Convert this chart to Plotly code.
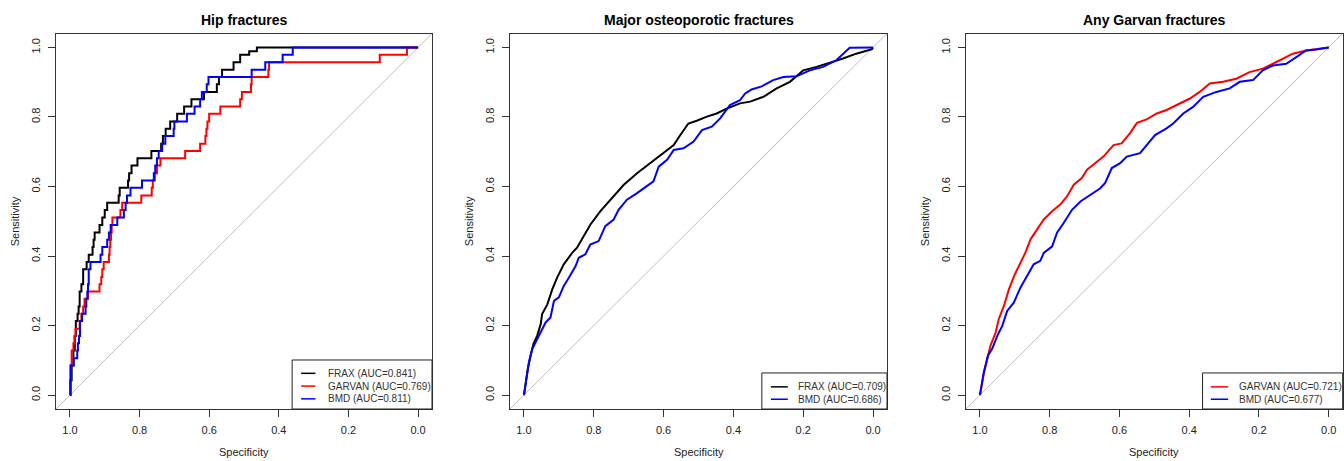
import plotly.graph_objects as go

# ---------------- data ----------------
panel_titles = ["Hip fractures", "Major osteoporotic fractures", "Any Garvan fractures"]
tick_vals = [0.0, 0.2, 0.4, 0.6, 0.8, 1.0]
tick_text = ["0.0", "0.2", "0.4", "0.6", "0.8", "1.0"]

# Hip fractures (step curves: start of each sensitivity level)
hip_frax_spec = [1.0, 0.998, 0.995, 0.990, 0.986, 0.983, 0.978, 0.975, 0.972, 0.967, 0.962, 0.952, 0.946, 0.935,
                 0.932, 0.929, 0.915, 0.907, 0.900, 0.893, 0.860, 0.857, 0.833, 0.830, 0.823, 0.806, 0.766, 0.738,
                 0.733, 0.725, 0.712, 0.692, 0.672, 0.651, 0.615, 0.578, 0.572, 0.563, 0.530, 0.511, 0.485, 0.463, 0.0]
hip_frax_sens = [0.0, 0.043, 0.085, 0.128, 0.170, 0.213, 0.234, 0.255, 0.298, 0.319, 0.362, 0.383, 0.404, 0.426,
                 0.447, 0.468, 0.489, 0.511, 0.532, 0.553, 0.574, 0.596, 0.617, 0.638, 0.660, 0.681, 0.702, 0.723,
                 0.745, 0.766, 0.787, 0.809, 0.830, 0.851, 0.872, 0.894, 0.915, 0.936, 0.957, 0.979, 0.989, 1.0, 1.0]

hip_garvan_spec = [1.0, 0.998, 0.995, 0.990, 0.987, 0.984, 0.972, 0.967, 0.962, 0.958, 0.948, 0.915, 0.910, 0.907,
                   0.903, 0.888, 0.886, 0.884, 0.882, 0.880, 0.878, 0.855, 0.850, 0.795, 0.765, 0.762, 0.756, 0.750,
                   0.740, 0.669, 0.626, 0.611, 0.608, 0.605, 0.600, 0.568, 0.511, 0.506, 0.480, 0.478, 0.430, 0.428,
                   0.110, 0.032, 0.0]
hip_garvan_sens = [0.0, 0.085, 0.128, 0.149, 0.170, 0.191, 0.213, 0.234, 0.255, 0.277, 0.298, 0.319, 0.340, 0.362,
                   0.383, 0.404, 0.426, 0.447, 0.468, 0.489, 0.511, 0.532, 0.553, 0.574, 0.596, 0.617, 0.638, 0.660,
                   0.681, 0.702, 0.723, 0.745, 0.766, 0.787, 0.809, 0.830, 0.851, 0.872, 0.894, 0.915, 0.936, 0.957,
                   0.979, 1.0, 1.0]

hip_bmd_spec = [1.0, 0.999, 0.998, 0.989, 0.979, 0.977, 0.974, 0.971, 0.965, 0.955, 0.953, 0.950, 0.948, 0.946,
                0.941, 0.912, 0.907, 0.893, 0.888, 0.883, 0.864, 0.845, 0.840, 0.836, 0.826, 0.793, 0.759, 0.755,
                0.750, 0.745, 0.735, 0.726, 0.702, 0.700, 0.664, 0.642, 0.626, 0.621, 0.607, 0.602, 0.478, 0.439,
                0.389, 0.360, 0.0]
hip_bmd_sens = [0.0, 0.043, 0.085, 0.106, 0.128, 0.149, 0.170, 0.213, 0.234, 0.255, 0.277, 0.298, 0.319, 0.362,
                0.383, 0.404, 0.426, 0.447, 0.468, 0.489, 0.511, 0.532, 0.553, 0.574, 0.596, 0.617, 0.638, 0.660,
                0.681, 0.702, 0.723, 0.745, 0.766, 0.787, 0.809, 0.830, 0.851, 0.872, 0.894, 0.915, 0.936, 0.957,
                0.979, 1.0, 1.0]

# Major osteoporotic fractures
mof_frax_spec = [1.0, 0.995, 0.989, 0.981, 0.973, 0.962, 0.952, 0.948, 0.933, 0.919, 0.905, 0.886, 0.862, 0.848,
                 0.829, 0.810, 0.781, 0.752, 0.714, 0.676, 0.638, 0.600, 0.571, 0.552, 0.529, 0.505, 0.476, 0.448,
                 0.419, 0.381, 0.352, 0.314, 0.276, 0.238, 0.200, 0.162, 0.124, 0.086, 0.048, 0.014, 0.003, 0.0]
mof_frax_sens = [0.0, 0.037, 0.075, 0.114, 0.147, 0.171, 0.204, 0.233, 0.261, 0.304, 0.338, 0.376, 0.409, 0.424,
                 0.457, 0.490, 0.529, 0.562, 0.605, 0.638, 0.667, 0.696, 0.719, 0.748, 0.781, 0.789, 0.801, 0.810,
                 0.824, 0.839, 0.844, 0.858, 0.882, 0.901, 0.934, 0.944, 0.955, 0.968, 0.982, 0.991, 0.995, 1.0]

mof_bmd_spec = [1.0, 0.995, 0.986, 0.976, 0.967, 0.952, 0.938, 0.924, 0.914, 0.900, 0.886, 0.871, 0.852, 0.843,
                0.824, 0.810, 0.786, 0.767, 0.743, 0.729, 0.705, 0.676, 0.648, 0.629, 0.614, 0.590, 0.571, 0.543,
                0.514, 0.490, 0.462, 0.438, 0.410, 0.381, 0.367, 0.348, 0.319, 0.286, 0.257, 0.219, 0.181, 0.143,
                0.105, 0.081, 0.067, 0.0]
mof_bmd_sens = [0.0, 0.037, 0.094, 0.133, 0.152, 0.180, 0.209, 0.223, 0.271, 0.281, 0.314, 0.338, 0.371, 0.395,
                0.405, 0.433, 0.443, 0.486, 0.505, 0.533, 0.562, 0.581, 0.600, 0.615, 0.657, 0.677, 0.705, 0.710,
                0.729, 0.762, 0.772, 0.796, 0.834, 0.848, 0.867, 0.879, 0.888, 0.906, 0.915, 0.917, 0.934, 0.944,
                0.963, 0.987, 0.999, 1.0]

# Any Garvan fractures
any_garvan_spec = [1.0, 0.989, 0.979, 0.970, 0.955, 0.946, 0.931, 0.917, 0.902, 0.883, 0.870, 0.855, 0.836, 0.817,
                   0.793, 0.770, 0.750, 0.731, 0.708, 0.693, 0.670, 0.646, 0.617, 0.594, 0.570, 0.550, 0.522, 0.493,
                   0.465, 0.436, 0.398, 0.370, 0.341, 0.303, 0.265, 0.227, 0.189, 0.160, 0.131, 0.103, 0.065, 0.027,
                   0.0]
any_garvan_sens = [0.0, 0.061, 0.104, 0.142, 0.180, 0.219, 0.257, 0.304, 0.343, 0.381, 0.409, 0.448, 0.476, 0.505,
                   0.529, 0.548, 0.572, 0.605, 0.624, 0.648, 0.667, 0.686, 0.719, 0.724, 0.753, 0.783, 0.793, 0.810,
                   0.820, 0.834, 0.853, 0.872, 0.896, 0.901, 0.910, 0.929, 0.939, 0.953, 0.968, 0.982, 0.991, 0.996,
                   1.0]

any_bmd_spec = [1.0, 0.996, 0.989, 0.977, 0.965, 0.950, 0.936, 0.922, 0.903, 0.884, 0.865, 0.846, 0.827, 0.817,
                0.793, 0.779, 0.760, 0.736, 0.712, 0.684, 0.655, 0.641, 0.622, 0.598, 0.579, 0.541, 0.517, 0.498,
                0.465, 0.446, 0.417, 0.389, 0.360, 0.322, 0.284, 0.255, 0.217, 0.189, 0.160, 0.122, 0.093, 0.065,
                0.036, 0.0]
any_bmd_sens = [0.0, 0.028, 0.066, 0.114, 0.133, 0.171, 0.199, 0.242, 0.266, 0.309, 0.343, 0.376, 0.386, 0.409,
                0.428, 0.467, 0.495, 0.533, 0.557, 0.576, 0.595, 0.610, 0.653, 0.667, 0.686, 0.696, 0.724, 0.748,
                0.767, 0.781, 0.810, 0.829, 0.858, 0.872, 0.882, 0.901, 0.906, 0.934, 0.948, 0.953, 0.972, 0.991,
                0.994, 1.0]

hip_labels = ["FRAX (AUC=0.841)", "GARVAN (AUC=0.769)", "BMD (AUC=0.811)"]
mof_labels = ["FRAX (AUC=0.709)", "BMD (AUC=0.686)"]
any_labels = ["GARVAN (AUC=0.721)", "BMD (AUC=0.677)"]

BLACK, RED, BLUE = "#000000", "#FF0000", "#0000FF"

panels = [
    dict(curves=[(hip_frax_spec, hip_frax_sens, BLACK), (hip_garvan_spec, hip_garvan_sens, RED),
                 (hip_bmd_spec, hip_bmd_sens, BLUE)], shape="hv", labels=hip_labels, colors=[BLACK, RED, BLUE],
         dom=[56, 432], leg=dict(x0=0.628, top=0.1305, l0=0.652, l1=0.690, tx=0.718, rows=[0.095, 0.061, 0.027])),
    dict(curves=[(mof_frax_spec, mof_frax_sens, BLACK), (mof_bmd_spec, mof_bmd_sens, BLUE)], shape="linear",
         labels=mof_labels, colors=[BLACK, BLUE],
         dom=[510, 887], leg=dict(x0=0.668, top=0.096, l0=0.692, l1=0.737, tx=0.759, rows=[0.059, 0.026])),
    dict(curves=[(any_garvan_spec, any_garvan_sens, RED), (any_bmd_spec, any_bmd_sens, BLUE)], shape="linear",
         labels=any_labels, colors=[RED, BLUE],
         dom=[966, 1342.7], leg=dict(x0=0.628, top=0.096, l0=0.650, l1=0.696, tx=0.719, rows=[0.059, 0.026])),
]

W, H = 1344, 461
y_dom = [1 - 409 / H, 1 - 33.5 / H]
FONT = "Liberation Sans, Arial, sans-serif"

fig = go.Figure()
shapes = []
annotations = []

for i, p in enumerate(panels):
    n = i + 1
    xa = "x" if n == 1 else f"x{n}"
    ya = "y" if n == 1 else f"y{n}"
    xd = f"{xa} domain"
    yd = f"{ya} domain"
    for xs, ys, col in p["curves"]:
        fig.add_trace(go.Scatter(x=xs, y=ys, mode="lines", line=dict(color=col, width=2, shape=p["shape"]),
                                 xaxis=xa, yaxis=ya, showlegend=False, hoverinfo="skip"))
    # chance diagonal
    shapes.append(dict(type="line", xref=xa, yref=ya, x0=1.04, y0=-0.04, x1=-0.04, y1=1.04,
                       line=dict(color="#BEBEBE", width=1), layer="below"))
    # legend box
    L = p["leg"]
    shapes.append(dict(type="rect", xref=xd, yref=yd, x0=L["x0"], x1=1.0, y0=0.0, y1=L["top"],
                       line=dict(color="#222222", width=1), fillcolor="white"))
    for lab, col, ry in zip(p["labels"], p["colors"], L["rows"]):
        shapes.append(dict(type="line", xref=xd, yref=yd, x0=L["l0"], x1=L["l1"], y0=ry, y1=ry,
                           line=dict(color=col, width=1.5)))
        annotations.append(dict(xref=xd, yref=yd, x=L["tx"], y=ry, text=lab, showarrow=False,
                                xanchor="left", yanchor="middle", font=dict(family=FONT, size=10, color="#333333")))
    # title
    annotations.append(dict(xref=xd, yref=yd, x=0.5, y=1 + 13.5 / 375.5, text=f"<b>{panel_titles[i]}</b>",
                            showarrow=False, xanchor="center", yanchor="middle",
                            font=dict(family=FONT, size=14, color="#000000")))
    # axis titles
    annotations.append(dict(xref=xd, yref=yd, x=0.5, y=-(452 - 409) / 375.5, text="Specificity",
                            showarrow=False, xanchor="center", yanchor="middle",
                            font=dict(family=FONT, size=11, color="#222222")))
    annotations.append(dict(xref=xd, yref=yd, x=-(41) / 376.0, y=0.5, text="Sensitivity", textangle=-90,
                            showarrow=False, xanchor="center", yanchor="middle",
                            font=dict(family=FONT, size=11, color="#222222")))

    axis_common = dict(showgrid=False, zeroline=False, showline=True, mirror=True, linecolor="#333333",
                       linewidth=1, ticks="outside", ticklen=7, tickcolor="#333333", tickwidth=1,
                       tickvals=tick_vals, ticktext=tick_text, tickfont=dict(family=FONT, size=11, color="#222222"),
                       fixedrange=True, automargin=False)
    fig.update_layout(**{
        ("xaxis" if n == 1 else f"xaxis{n}"): dict(axis_common, domain=[p["dom"][0] / W, p["dom"][1] / W],
                                                   range=[1.04, -0.04], anchor=ya, ticklabelstandoff=4),
        ("yaxis" if n == 1 else f"yaxis{n}"): dict(axis_common, domain=y_dom, range=[-0.04, 1.04], anchor=xa,
                                                   tickangle=-90, ticklabelstandoff=4),
    })

fig.update_layout(width=W, height=H, margin=dict(l=0, r=0, t=0, b=0), paper_bgcolor="white",
                  plot_bgcolor="white", shapes=shapes, annotations=annotations, showlegend=False)

fig.write_html("out.html", config={"displayModeBar": False},
               post_script="document.body.style.margin='0px';document.body.style.overflow='hidden';")
